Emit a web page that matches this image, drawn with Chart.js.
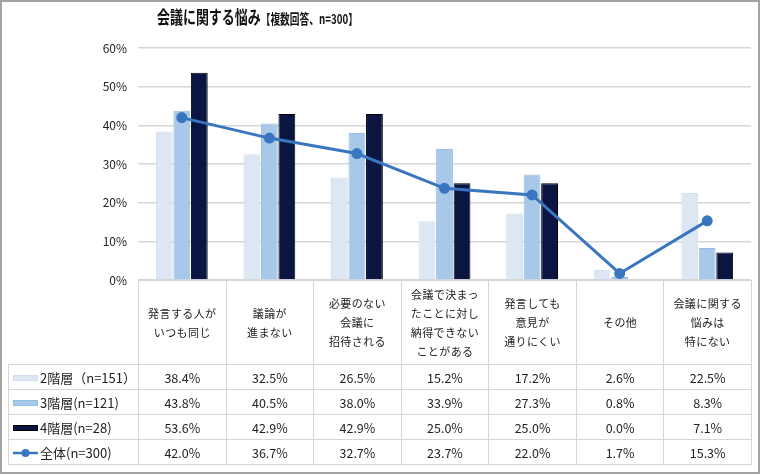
<!DOCTYPE html>
<html><head><meta charset="utf-8">
<script src="https://cdn.jsdelivr.net/npm/chart.js@4"></script>
<style>
html,body{margin:0;padding:0;background:#fff;}
body{width:760px;height:474px;position:relative;overflow:hidden;font-family:"Noto Sans CJK JP","Noto Sans",sans-serif;color:#222;}
#frame{position:absolute;left:0;top:0;width:760px;height:474px;box-sizing:border-box;border:2px solid #a3a3a3;pointer-events:none;z-index:5;}
#wrap{position:absolute;left:0;top:0;width:760px;height:474px;}
#title{position:absolute;left:157px;top:3px;font-weight:bold;white-space:nowrap;color:#111;transform:scaleX(0.72);transform-origin:0 0;}
#title .m{font-size:18px;}
#title .s{font-size:13.5px;}
table{position:absolute;left:8px;top:280px;border-collapse:collapse;table-layout:fixed;}
td{border:1.5px solid #d6d6d6;text-align:center;font-size:12.5px;padding:0;height:24px;}
td.hd{height:83px;line-height:19px;letter-spacing:0.4px;font-size:11px;}
td.corner{border:none;border-bottom:1.5px solid #d6d6d6;}
td.lab{text-align:left;white-space:nowrap;font-size:13px;padding-left:4px;}
.sw{display:inline-block;width:25px;height:6px;vertical-align:middle;margin-right:2px;position:relative;top:-1px;}
.lsw{display:inline-block;width:25px;height:12px;vertical-align:middle;margin-right:2px;position:relative;top:-1px;}
</style></head>
<body>
<div id="wrap"><canvas id="c"></canvas></div>
<div id="title"><span class="m">会議に関する悩み</span><span class="s">【複数回答、n=300】</span></div>
<table id="tbl"></table>
<div id="frame"></div>
<script>
const categories = [
  ["発言する人が","いつも同じ"],
  ["議論が","進まない"],
  ["必要のない","会議に","招待される"],
  ["会議で決まっ","たことに対し","納得できない","ことがある"],
  ["発言しても","意見が","通りにくい"],
  ["その他"],
  ["会議に関する","悩みは","特にない"]
];
const seriesNames = ["2階層（n=151）","3階層(n=121)","4階層(n=28)","全体(n=300)"];
const tier2 = [38.4,32.5,26.5,15.2,17.2,2.6,22.5];
const tier3 = [43.8,40.5,38.0,33.9,27.3,0.8,8.3];
const tier4 = [53.6,42.9,42.9,25.0,25.0,0.0,7.1];
const overall = [42.0,36.7,32.7,23.7,22.0,1.7,15.3];
const yTicks = [0,10,20,30,40,50,60];

const colors = ["#dce7f3","#a7c8e9","#0b1542","#3a76c0"];
const borders = ["#d0deee","#97bce2","#000000","#3a76c0"];

const labels = categories.map(c=>c.join(""));
const cv = document.getElementById('c');
new Chart(cv, {
  type:'bar',
  data:{
    labels: labels,
    datasets:[
      {label:seriesNames[0],data:tier2,backgroundColor:colors[0],borderColor:borders[0],borderWidth:1,order:2},
      {label:seriesNames[1],data:tier3,backgroundColor:colors[1],borderColor:borders[1],borderWidth:1,order:2},
      {label:seriesNames[2],data:tier4,backgroundColor:colors[2],borderColor:borders[2],borderWidth:1,order:2},
      {type:'line',label:seriesNames[3],data:overall,borderColor:colors[3],backgroundColor:colors[3],borderWidth:3,pointRadius:4,pointBackgroundColor:colors[3],pointBorderColor:colors[3],tension:0,order:0}
    ]
  },
  options:{
    responsive:true, maintainAspectRatio:false, animation:false,
    devicePixelRatio:1,
    layout:{padding:{left:0,right:9,top:48,bottom:194}},
    plugins:{legend:{display:false},tooltip:{enabled:false},title:{display:false}},
    datasets:{bar:{barPercentage:0.96,categoryPercentage:0.6}},
    scales:{
      x:{display:false},
      y:{
        min:0,max:60,
        afterBuildTicks:(s)=>{s.ticks = yTicks.map(v=>({value:v}));},
        afterFit:(s)=>{s.width=138;},
        grid:{color:'#d6d6d6',lineWidth:1.5,drawTicks:false},
        border:{display:false},
        ticks:{padding:11,color:'#222',font:{family:'"Noto Sans CJK JP","Noto Sans",sans-serif',size:12},callback:v=>v+'%'}
      }
    }
  }
});

// data table
const tbl = document.getElementById('tbl');
const cg = document.createElement('colgroup');
let col = document.createElement('col'); col.style.width='130px'; cg.appendChild(col);
for(let i=0;i<categories.length;i++){col=document.createElement('col');col.style.width=(613/7)+'px';cg.appendChild(col);}
tbl.appendChild(cg);
let tr = document.createElement('tr');
let td = document.createElement('td'); td.className='corner hd'; tr.appendChild(td);
categories.forEach(c=>{const d=document.createElement('td');d.className='hd';d.innerHTML=c.join('<br>');tr.appendChild(d);});
tbl.appendChild(tr);
const allSeries=[tier2,tier3,tier4,overall];
allSeries.forEach((arr,si)=>{
  const r=document.createElement('tr');
  const l=document.createElement('td'); l.className='lab';
  if(si<3){
    l.innerHTML='<span class="sw" style="background:'+colors[si]+';border:1px solid '+borders[si]+';box-sizing:border-box"></span>';
  } else {
    l.innerHTML='<svg class="lsw" viewBox="0 0 25 12"><line x1="0" y1="6" x2="25" y2="6" stroke="'+colors[3]+'" stroke-width="2.5"/><circle cx="12.5" cy="6" r="4" fill="'+colors[3]+'"/></svg>';
  }
  l.appendChild(document.createTextNode(seriesNames[si]));
  r.appendChild(l);
  arr.forEach(v=>{const d=document.createElement('td');d.textContent=v.toFixed(1)+'%';r.appendChild(d);});
  tbl.appendChild(r);
});
</script>
</body></html>
